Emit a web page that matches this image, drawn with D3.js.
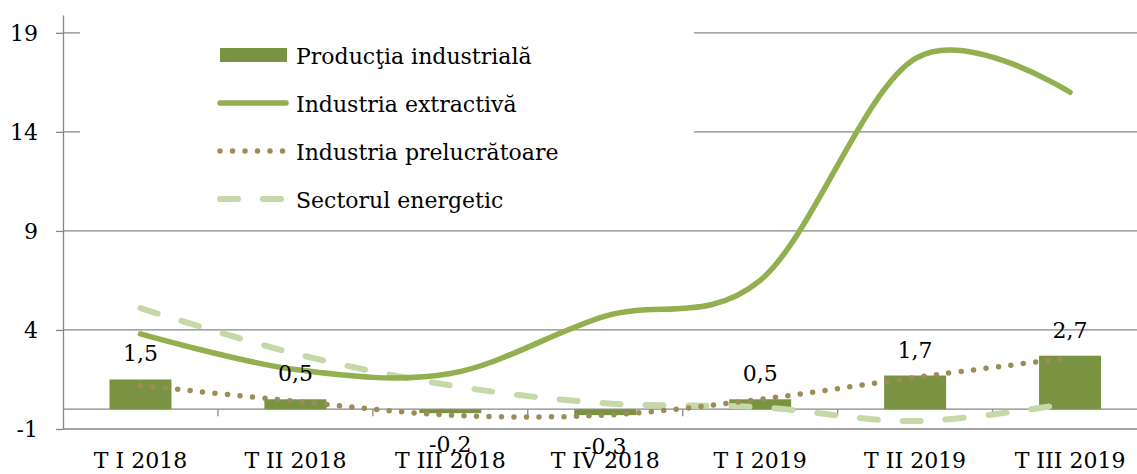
<!DOCTYPE html>
<html>
<head>
<meta charset="utf-8">
<script src="https://cdn.jsdelivr.net/npm/d3@7"></script>
<style>
  body { margin: 0; background: #fff; }
  .chart text { font-family: "DejaVu Serif", serif; fill: #000; }
</style>
</head>
<body>
<div class="chart"></div>
<script>
// DATA ------------------------------
const quarters = ["T I 2018", "T II 2018", "T III 2018", "T IV 2018", "T I 2019", "T II 2019", "T III 2019"];
const productie = [1.5, 0.5, -0.2, -0.3, 0.5, 1.7, 2.7];
const extractiva = [3.8, 2.0, 1.8, 4.7, 6.5, 17.7, 16.0];
const prelucratoare = [1.2, 0.4, -0.3, -0.3, 0.5, 1.6, 2.6];
const energetic = [5.1, 2.8, 1.2, 0.3, 0.1, -0.6, 0.3];
const yTicks = [-1, 4, 9, 14, 19];
const seriesNames = ["Producţia industrială", "Industria extractivă", "Industria prelucrătoare", "Sectorul energetic"];

// CHART INIT ------------------------------
const width = 1137, height = 474;
const plot = {left: 63, right: 1147.5, top: 15, bottom: 429};
const grey = "#878787";
const colors = {bar: "#7A9343", solid: "#92B050", dots: "#9C8C57", dash: "#C5D8A8"};

const svg = d3.select(".chart").append("svg")
    .attr("width", width)
    .attr("height", height);

const xCat = d3.scaleBand()
    .domain(quarters)
    .range([plot.left, plot.right]);

const xBar = d3.scaleBand()
    .domain(quarters)
    .range([plot.left, plot.right])
    .paddingInner(0.6)
    .paddingOuter(0.3);

const yScale = d3.scaleLinear()
    .domain([-1, 19.9])
    .range([plot.bottom, plot.top]);

const cx = d => xCat(d) + xCat.bandwidth() / 2;
const fmt = d => String(d).replace(".", ",");

// gridlines
svg.append("g").selectAll("line")
    .data(yTicks)
    .join("line")
    .attr("x1", plot.left)
    .attr("x2", width)
    .attr("y1", d => yScale(d))
    .attr("y2", d => yScale(d))
    .attr("stroke", grey)
    .attr("stroke-width", 1.3);

// y axis
const yAxis = d3.axisLeft(yScale)
    .tickValues(yTicks)
    .tickFormat(d => String(d))
    .tickSize(7)
    .tickSizeOuter(0)
    .tickPadding(18);

const yG = svg.append("g")
    .attr("class", "axis y-axis")
    .attr("transform", `translate(${plot.left},0)`)
    .call(yAxis);
yG.selectAll("path, line").attr("stroke", grey).attr("stroke-width", 1.3);
yG.selectAll("text").attr("font-size", 22).attr("dy", "0.36em");

// x axis on the zero line
const xAxis = d3.axisBottom(xCat)
    .tickSize(0)
    .tickSizeOuter(0)
    .tickPadding(43);

const xG = svg.append("g")
    .attr("class", "axis x-axis")
    .attr("transform", `translate(0,${yScale(0)})`)
    .call(xAxis);
xG.select(".domain").remove();
xG.selectAll("text").attr("font-size", 22);

svg.append("line")
    .attr("x1", plot.left)
    .attr("x2", width)
    .attr("y1", yScale(0))
    .attr("y2", yScale(0))
    .attr("stroke", grey)
    .attr("stroke-width", 1.3);

svg.append("g").selectAll("line")
    .data(quarters.slice(1))
    .join("line")
    .attr("x1", d => xCat(d))
    .attr("x2", d => xCat(d))
    .attr("y1", yScale(0))
    .attr("y2", yScale(0) + 7)
    .attr("stroke", grey)
    .attr("stroke-width", 1.3);

// legend background hides the top gridlines
svg.append("rect")
    .attr("x", 80)
    .attr("y", 20)
    .attr("width", 614)
    .attr("height", 200)
    .attr("fill", "#fff");

// bars
svg.append("g").selectAll("rect")
    .data(productie)
    .join("rect")
    .attr("x", (d, i) => xBar(quarters[i]))
    .attr("y", d => yScale(Math.max(0, d)))
    .attr("width", xBar.bandwidth())
    .attr("height", d => Math.abs(yScale(d) - yScale(0)))
    .attr("fill", colors.bar);

// lines
const line = d3.line()
    .x((d, i) => cx(quarters[i]))
    .y(d => yScale(d))
    .curve(d3.curveCardinal);

const lines = [
    {values: energetic, color: colors.dash, width: 6, dash: "18 25"},
    {values: prelucratoare, color: colors.dots, width: 5.5, dash: "0 12.5"},
    {values: extractiva, color: colors.solid, width: 5.5, dash: null}
];

svg.append("g").selectAll("path")
    .data(lines)
    .join("path")
    .attr("d", d => line(d.values))
    .attr("fill", "none")
    .attr("stroke", d => d.color)
    .attr("stroke-width", d => d.width)
    .attr("stroke-linecap", "round")
    .attr("stroke-dasharray", d => d.dash);

// data labels
svg.append("g").selectAll("text")
    .data(productie)
    .join("text")
    .attr("x", (d, i) => cx(quarters[i]))
    .attr("y", d => d >= 0 ? yScale(d) - 18 : yScale(d) + 39)
    .attr("text-anchor", "middle")
    .attr("font-size", 22)
    .text(d => fmt(d));

// legend
const legend = svg.append("g").attr("class", "legend");
const legendY = [55, 103, 151, 199];

legend.append("rect")
    .attr("x", 220).attr("y", legendY[0] - 7)
    .attr("width", 67).attr("height", 14)
    .attr("fill", colors.bar);

lines.slice().reverse().forEach((l, i) => {
    legend.append("line")
        .attr("x1", 220)
        .attr("x2", 286)
        .attr("y1", legendY[i + 1])
        .attr("y2", legendY[i + 1])
        .attr("stroke", l.color)
        .attr("stroke-width", l.width)
        .attr("stroke-linecap", "round")
        .attr("stroke-dasharray", l.dash);
});

legend.selectAll("text")
    .data(seriesNames)
    .join("text")
    .attr("x", 296)
    .attr("y", (d, i) => legendY[i] + 9)
    .attr("font-size", 22)
    .text(d => d);
</script>
</body>
</html>
